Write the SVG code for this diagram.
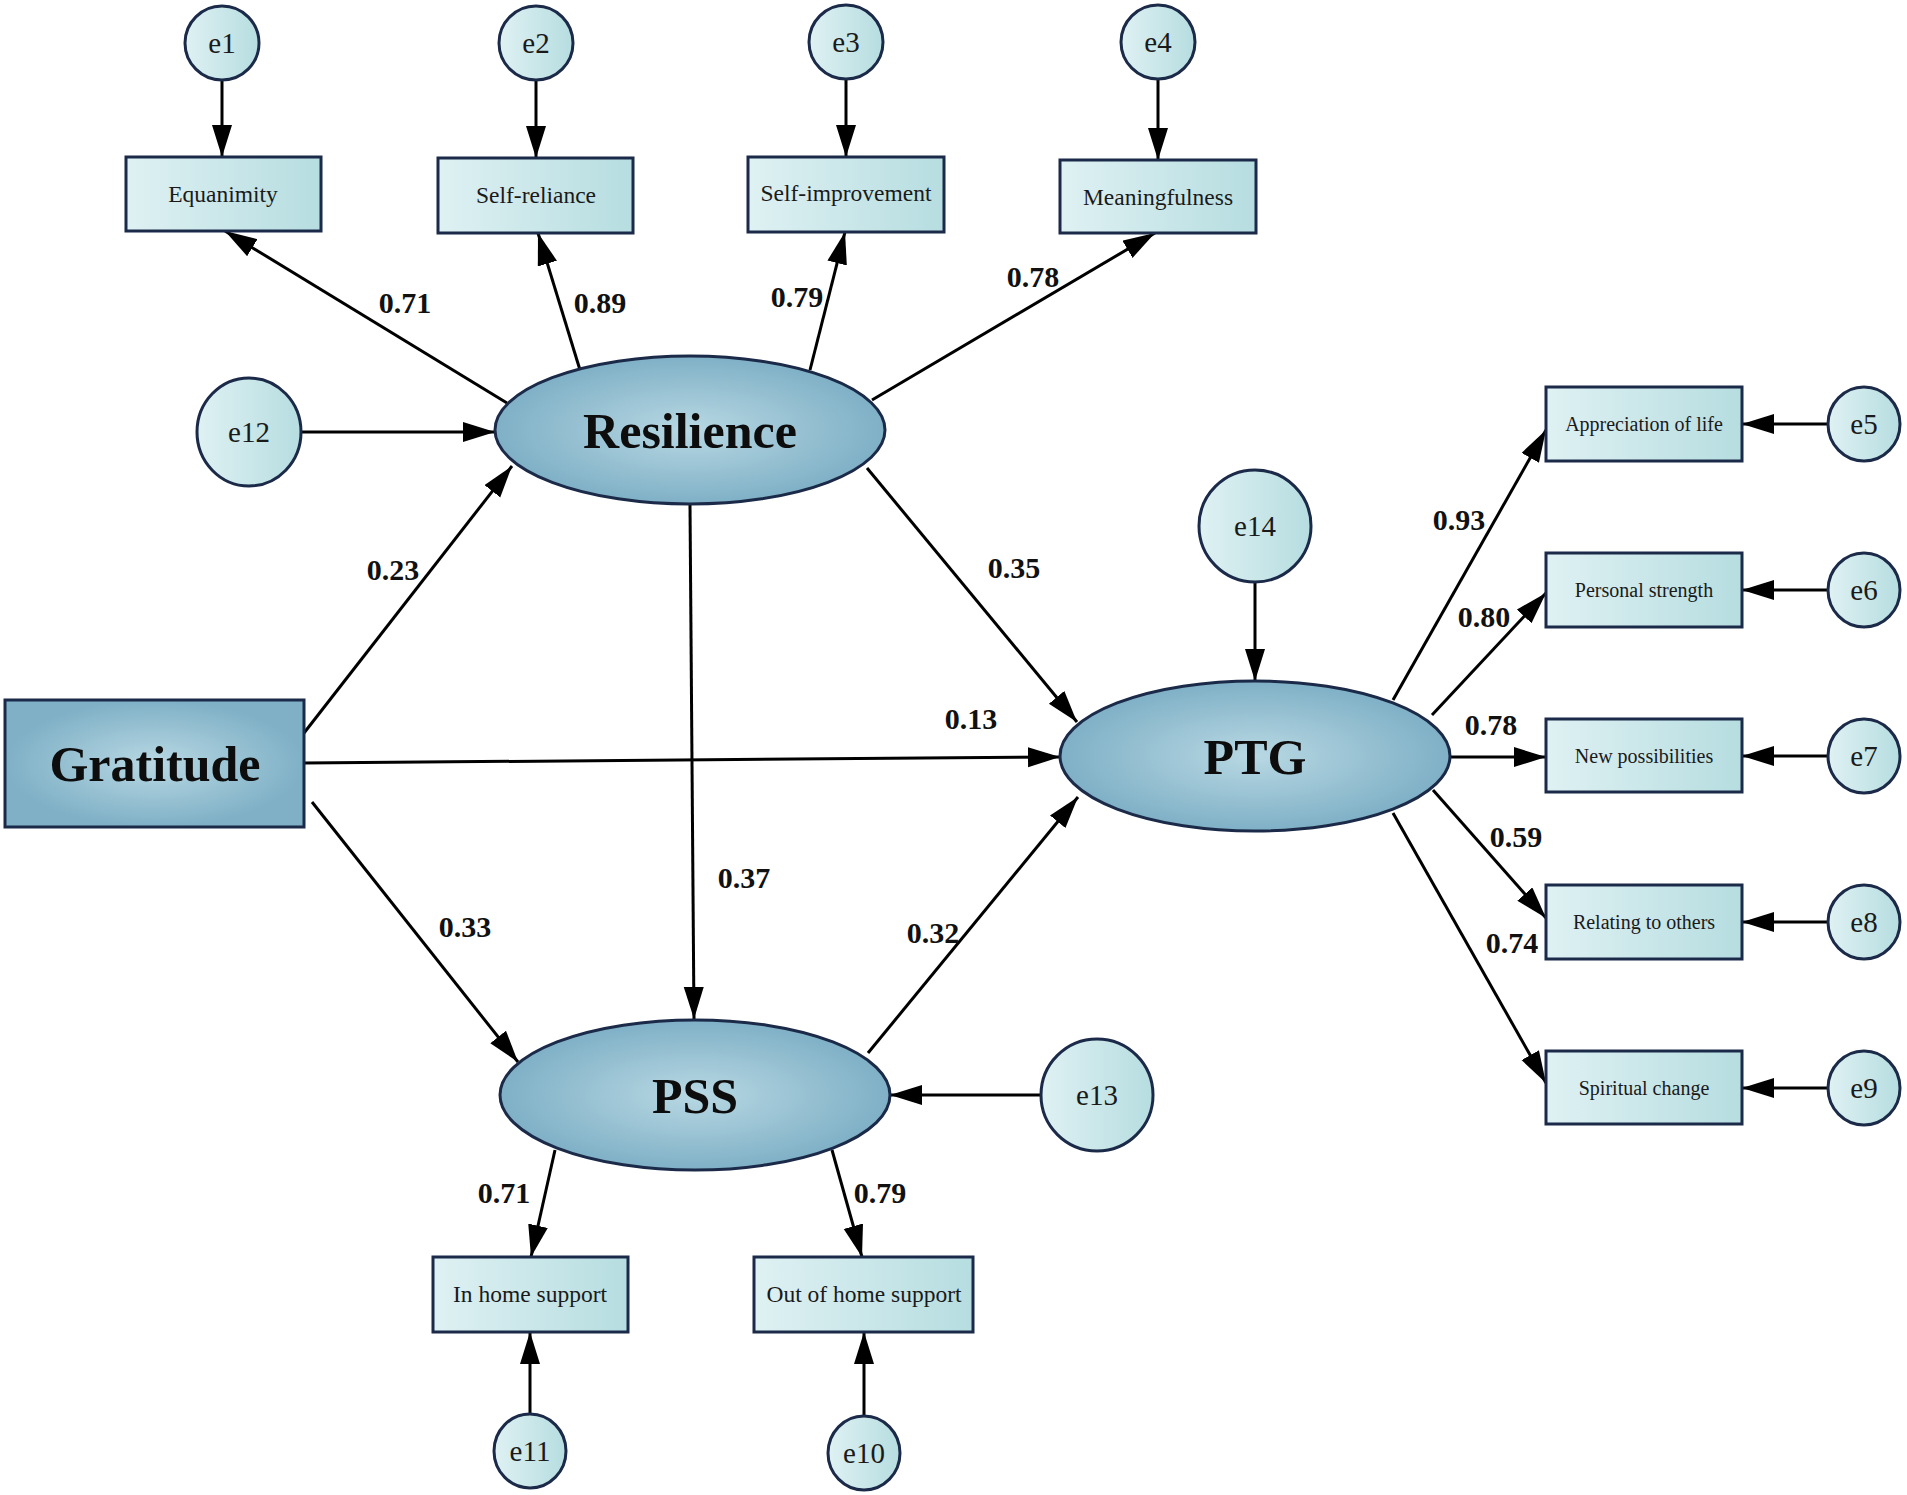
<svg xmlns="http://www.w3.org/2000/svg" width="1907" height="1495" viewBox="0 0 1907 1495">
<defs>
<linearGradient id="gs" x1="0" y1="0" x2="1" y2="0">
<stop offset="0" stop-color="#dff1f3"/>
<stop offset="1" stop-color="#b6dde0"/>
</linearGradient>
<radialGradient id="gb" cx="0.5" cy="0.5" r="0.5">
<stop offset="0" stop-color="#b8d8e3"/>
<stop offset="1" stop-color="#7fb0c6"/>
</radialGradient>
<marker id="ah" markerUnits="userSpaceOnUse" markerWidth="34" markerHeight="22" refX="32" refY="10" orient="auto">
<path d="M0,0 L32,10 L0,20 z" fill="#000"/>
</marker>
<style>
.s{fill:url(#gs);stroke:#1b2a48;stroke-width:3}
.b{fill:url(#gb);stroke:#1b2a48;stroke-width:3}
.c{stroke:#000;stroke-width:3;fill:none;marker-end:url(#ah)}
.t{font-family:"Liberation Serif","Times New Roman",serif;text-anchor:middle;fill:#1a1a1a}
.e{font-size:29px}
.m{font-size:23.5px}
.r{font-size:20px}
.B{font-size:50px;font-weight:bold;fill:#0d0d0d}
.l{font-family:"Liberation Serif","Times New Roman",serif;font-size:30px;font-weight:bold;text-anchor:middle;fill:#111}
</style>
</defs>
<rect width="1907" height="1495" fill="#fff"/>
<g id="connectors">
<line class="c" x1="222" y1="80" x2="222" y2="157"/>
<line class="c" x1="536" y1="80" x2="536" y2="158"/>
<line class="c" x1="846" y1="80" x2="846" y2="157"/>
<line class="c" x1="1158" y1="80" x2="1158" y2="160"/>
<line class="c" x1="507" y1="403" x2="225" y2="231"/>
<line class="c" x1="580" y1="370" x2="538" y2="233"/>
<line class="c" x1="810" y1="370" x2="845" y2="232"/>
<line class="c" x1="872" y1="400" x2="1155" y2="233"/>
<line class="c" x1="301" y1="432" x2="495" y2="432"/>
<line class="c" x1="304" y1="733" x2="512" y2="466"/>
<line class="c" x1="304" y1="763" x2="1060" y2="757"/>
<line class="c" x1="312" y1="802" x2="518" y2="1062"/>
<line class="c" x1="690" y1="505" x2="694" y2="1019"/>
<line class="c" x1="867" y1="468" x2="1077" y2="722"/>
<line class="c" x1="868" y1="1053" x2="1078" y2="797"/>
<line class="c" x1="1255" y1="583" x2="1255" y2="681"/>
<line class="c" x1="1041" y1="1095" x2="890" y2="1095"/>
<line class="c" x1="555" y1="1150" x2="531" y2="1257"/>
<line class="c" x1="832" y1="1150" x2="862" y2="1257"/>
<line class="c" x1="530" y1="1414" x2="530" y2="1332"/>
<line class="c" x1="864" y1="1416" x2="864" y2="1332"/>
<line class="c" x1="1393" y1="700" x2="1546" y2="430"/>
<line class="c" x1="1432" y1="715" x2="1546" y2="593"/>
<line class="c" x1="1450" y1="757" x2="1546" y2="757"/>
<line class="c" x1="1433" y1="790" x2="1546" y2="918"/>
<line class="c" x1="1393" y1="813" x2="1546" y2="1083"/>
<line class="c" x1="1827" y1="424" x2="1742" y2="424"/>
<line class="c" x1="1827" y1="590" x2="1742" y2="590"/>
<line class="c" x1="1827" y1="756" x2="1742" y2="756"/>
<line class="c" x1="1827" y1="922" x2="1742" y2="922"/>
<line class="c" x1="1827" y1="1088" x2="1742" y2="1088"/>
</g>
<g id="labels">
<text class="l" x="405" y="313">0.71</text>
<text class="l" x="600" y="313">0.89</text>
<text class="l" x="797" y="307">0.79</text>
<text class="l" x="1033" y="287">0.78</text>
<text class="l" x="393" y="580">0.23</text>
<text class="l" x="1014" y="578">0.35</text>
<text class="l" x="971" y="729">0.13</text>
<text class="l" x="744" y="888">0.37</text>
<text class="l" x="465" y="937">0.33</text>
<text class="l" x="933" y="943">0.32</text>
<text class="l" x="504" y="1203">0.71</text>
<text class="l" x="880" y="1203">0.79</text>
<text class="l" x="1459" y="530">0.93</text>
<text class="l" x="1484" y="627">0.80</text>
<text class="l" x="1491" y="735">0.78</text>
<text class="l" x="1516" y="847">0.59</text>
<text class="l" x="1512" y="953">0.74</text>
</g>
<g id="e1"><ellipse class="s" cx="222" cy="43" rx="37" ry="37"/><text class="t e" x="222" y="53">e1</text></g>
<g id="e2"><ellipse class="s" cx="536" cy="43" rx="37" ry="37"/><text class="t e" x="536" y="53">e2</text></g>
<g id="e3"><ellipse class="s" cx="846" cy="42" rx="37" ry="37"/><text class="t e" x="846" y="52">e3</text></g>
<g id="e4"><ellipse class="s" cx="1158" cy="42" rx="37" ry="37"/><text class="t e" x="1158" y="52">e4</text></g>
<g id="equanimity"><rect class="s" x="126" y="157" width="195" height="74"/><text class="t m" x="223" y="202">Equanimity</text></g>
<g id="self-reliance"><rect class="s" x="438" y="158" width="195" height="75"/><text class="t m" x="536" y="203">Self-reliance</text></g>
<g id="self-improvement"><rect class="s" x="748" y="157" width="196" height="75"/><text class="t m" x="846" y="201">Self-improvement</text></g>
<g id="meaningfulness"><rect class="s" x="1060" y="160" width="196" height="73"/><text class="t m" x="1158" y="205">Meaningfulness</text></g>
<g id="e12"><ellipse class="s" cx="249" cy="432" rx="52" ry="54"/><text class="t e" x="249" y="442">e12</text></g>
<g id="resilience"><ellipse class="b" cx="690" cy="430" rx="195" ry="74"/><text class="t B" x="690" y="448">Resilience</text></g>
<g id="gratitude"><rect class="b" x="5" y="700" width="299" height="127"/><text class="t B" x="155" y="781">Gratitude</text></g>
<g id="ptg"><ellipse class="b" cx="1255" cy="756" rx="195" ry="75"/><text class="t B" x="1255" y="774">PTG</text></g>
<g id="e14"><ellipse class="s" cx="1255" cy="526" rx="56" ry="56"/><text class="t e" x="1255" y="536">e14</text></g>
<g id="pss"><ellipse class="b" cx="695" cy="1095" rx="195" ry="75"/><text class="t B" x="695" y="1113">PSS</text></g>
<g id="e13"><ellipse class="s" cx="1097" cy="1095" rx="56" ry="56"/><text class="t e" x="1097" y="1105">e13</text></g>
<g id="in-home-support"><rect class="s" x="433" y="1257" width="195" height="75"/><text class="t m" x="530" y="1302">In home support</text></g>
<g id="out-of-home-support"><rect class="s" x="754" y="1257" width="219" height="75"/><text class="t m" x="864" y="1302">Out of home support</text></g>
<g id="e11"><ellipse class="s" cx="530" cy="1451" rx="36" ry="37"/><text class="t e" x="530" y="1461">e11</text></g>
<g id="e10"><ellipse class="s" cx="864" cy="1453" rx="36" ry="37"/><text class="t e" x="864" y="1463">e10</text></g>
<g id="appreciation"><rect class="s" x="1546" y="387" width="196" height="74"/><text class="t r" x="1644" y="431">Appreciation of life</text></g>
<g id="personal-strength"><rect class="s" x="1546" y="553" width="196" height="74"/><text class="t r" x="1644" y="597">Personal strength</text></g>
<g id="new-possibilities"><rect class="s" x="1546" y="719" width="196" height="73"/><text class="t r" x="1644" y="763">New possibilities</text></g>
<g id="relating"><rect class="s" x="1546" y="885" width="196" height="74"/><text class="t r" x="1644" y="929">Relating to others</text></g>
<g id="spiritual"><rect class="s" x="1546" y="1051" width="196" height="73"/><text class="t r" x="1644" y="1095">Spiritual change</text></g>
<g id="e5"><ellipse class="s" cx="1864" cy="424" rx="36" ry="37"/><text class="t e" x="1864" y="434">e5</text></g>
<g id="e6"><ellipse class="s" cx="1864" cy="590" rx="36" ry="37"/><text class="t e" x="1864" y="600">e6</text></g>
<g id="e7"><ellipse class="s" cx="1864" cy="756" rx="36" ry="37"/><text class="t e" x="1864" y="766">e7</text></g>
<g id="e8"><ellipse class="s" cx="1864" cy="922" rx="36" ry="37"/><text class="t e" x="1864" y="932">e8</text></g>
<g id="e9"><ellipse class="s" cx="1864" cy="1088" rx="36" ry="37"/><text class="t e" x="1864" y="1098">e9</text></g>
</svg>
